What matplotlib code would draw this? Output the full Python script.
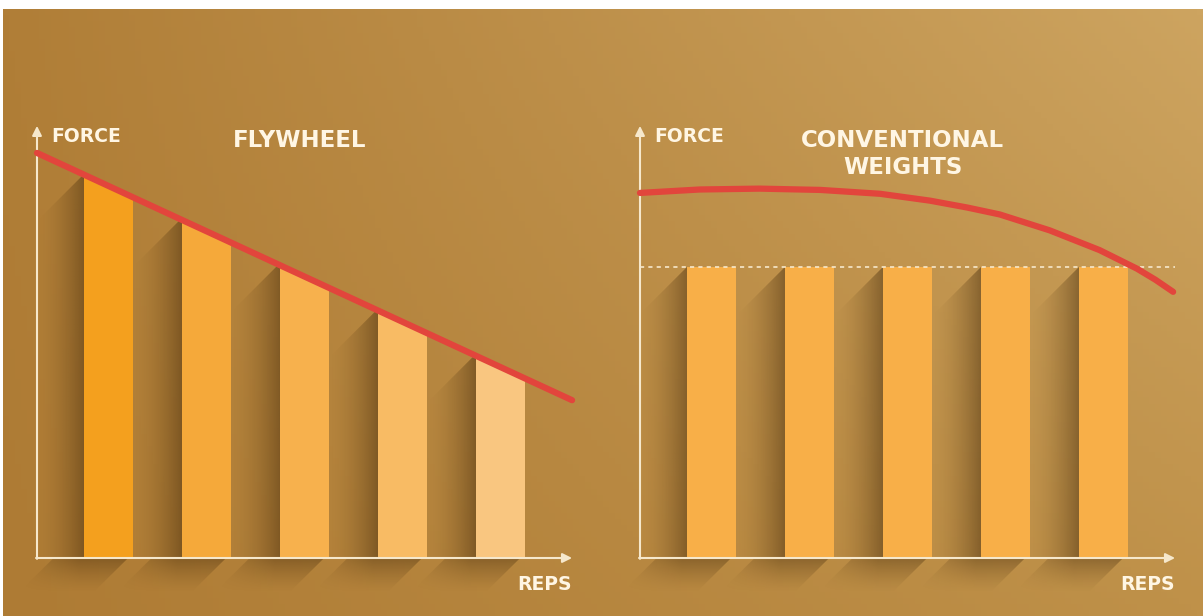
import numpy as np
import matplotlib.pyplot as plt
from matplotlib.patches import Polygon
from matplotlib.colors import to_rgb

# ---- data ----
reps = [1, 2, 3, 4, 5]
flywheel_force = [8.93, 7.91, 6.86, 5.80, 4.75]      # bar height at left edge, top cut by the line
flywheel_line_x = [0.27, 5.73]
flywheel_line_y = [9.42, 3.67]
conventional_force = [6.77, 6.77, 6.77, 6.77, 6.77]
conventional_curve_x = [0.27, 0.88, 1.49, 2.11, 2.72, 3.23, 3.61, 3.94, 4.45, 4.96, 5.34, 5.53, 5.71]
conventional_curve_y = [8.49, 8.57, 8.59, 8.56, 8.47, 8.31, 8.15, 7.99, 7.62, 7.16, 6.73, 6.47, 6.19]

flywheel_colors = ['#F4A01E', '#F5A93A', '#F7B14D', '#F8BB64', '#F9C680']
conventional_color = '#F8AF48'
line_red = '#E2453C'
cream = '#F6E8CC'
text_col = '#FFF6E4'

X0, X1 = 0.27, 5.73          # axis origin / arrow tip
BAR_W = 0.5
PX_X, PX_Y = 98.0, 43.0      # pixels per data unit


def shade(ax, verts, alpha_fn, color='#3a2206', z=2):
    verts = np.asarray(verts, dtype=float)
    (x0, y0), (x1, y1) = verts.min(0), verts.max(0)
    u = np.linspace(0, 1, 80)
    U, V = np.meshgrid(u, u)
    rgba = np.zeros((80, 80, 4))
    rgba[..., :3] = to_rgb(color)
    rgba[..., 3] = alpha_fn(U, V)
    im = ax.imshow(rgba, extent=(x0, x1, y0, y1), origin='lower', aspect='auto',
                   interpolation='bilinear', zorder=z)
    im.set_clip_path(Polygon(verts, closed=True, transform=ax.transData))


def panel(ax, heights, colors, title, title_y):
    lefts = [r - BAR_W / 2 for r in reps]
    for i, (L, h) in enumerate(zip(lefts, heights)):
        gap = L - (X0 if i == 0 else lefts[i - 1] + BAR_W)
        dy = gap * PX_X / PX_Y
        # side shadow, darker next to the bar
        shade(ax, [(L, h), (L - gap, h - dy), (L - gap, 0), (L, 0)],
              lambda U, V: 0.43 * U ** 1.7)
        # shadow below the x axis
        R = L + BAR_W
        sx, sy = 0.36, 0.81
        shade(ax, [(L - 0.31, 0), (R - 0.05, 0), (R - 0.05 - sx, -sy), (L - 0.31 - sx, -sy)],
              lambda U, V: 0.36 * V ** 1.4 * np.clip(U * 1.8, 0, 1))
    bars = ax.bar(reps, heights, width=BAR_W, color=colors, zorder=3, linewidth=0)

    # axes with arrows
    arrow = dict(arrowstyle='-|>', color=cream, lw=1.5, mutation_scale=14,
                 shrinkA=0, shrinkB=0)
    ax.annotate('', xy=(X0, 10.05), xytext=(X0, -0.02), arrowprops=arrow, zorder=5)
    ax.annotate('', xy=(X1, 0), xytext=(X0 - 0.01, 0), arrowprops=arrow, zorder=5)

    font = dict(family='DejaVu Sans', weight='bold', color=text_col)
    ax.text(X0 + 0.15, 9.8, 'FORCE', ha='left', va='center', fontsize=13.5, **font)
    ax.text(X1, -0.62, 'REPS', ha='right', va='center', fontsize=13.5, **font)
    ax.text(2.95, title_y, title, ha='center', va='center', fontsize=16.5,
            linespacing=1.2, **font)

    ax.set_xlim(0, 5.9)
    ax.set_ylim(-1.4, 10.2)
    ax.axis('off')
    return bars


fig = plt.figure(figsize=(12.03, 6.16), dpi=100, facecolor='white')

# background gradient (thin white strip at top and left like the reference)
bg = fig.add_axes([3 / 1203, 0, 1 - 3 / 1203, 607 / 616])
tl, tr = np.array(to_rgb('#B07E37')), np.array(to_rgb('#CDA460'))
bl, br = np.array(to_rgb('#AE7B34')), np.array(to_rgb('#BF9149'))
gx = np.linspace(0, 1, 200)[None, :, None]
gy = np.linspace(0, 1, 100)[:, None, None]
grad = (1 - gy) * ((1 - gx) * tl + gx * tr) + gy * ((1 - gx) * bl + gx * br)
bg.imshow(grad, aspect='auto', extent=(0, 1, 0, 1), origin='upper')
bg.axis('off')

w = 5.9 * PX_X / 1203
h = 11.6 * PX_Y / 616
bottom = (616 - (558 + 1.4 * PX_Y)) / 616

# ---- flywheel ----
ax1 = fig.add_axes([(37 - X0 * PX_X) / 1203, bottom, w, h])
bars1 = panel(ax1, flywheel_force, flywheel_colors, 'FLYWHEEL', 9.72)
clip = Polygon([(flywheel_line_x[0], flywheel_line_y[0]), (flywheel_line_x[1], flywheel_line_y[1]),
                (flywheel_line_x[1], 0), (flywheel_line_x[0], 0)], transform=ax1.transData)
for b in bars1:
    b.set_clip_path(clip)
ax1.plot(flywheel_line_x, flywheel_line_y, color=line_red, lw=4.5,
         solid_capstyle='round', zorder=6)

# ---- conventional weights ----
ax2 = fig.add_axes([(640 - X0 * PX_X) / 1203, bottom, w, h])
panel(ax2, conventional_force, conventional_color, 'CONVENTIONAL\nWEIGHTS', 9.4)
ax2.plot([X0, X1], [conventional_force[0]] * 2, color=cream, lw=1.2,
         ls=(0, (2.5, 2.5)), zorder=4)
ax2.plot(conventional_curve_x, conventional_curve_y, color=line_red, lw=4.5,
         solid_capstyle='round', solid_joinstyle='round', zorder=6)

fig.savefig('out.png', dpi=100, facecolor='white')
